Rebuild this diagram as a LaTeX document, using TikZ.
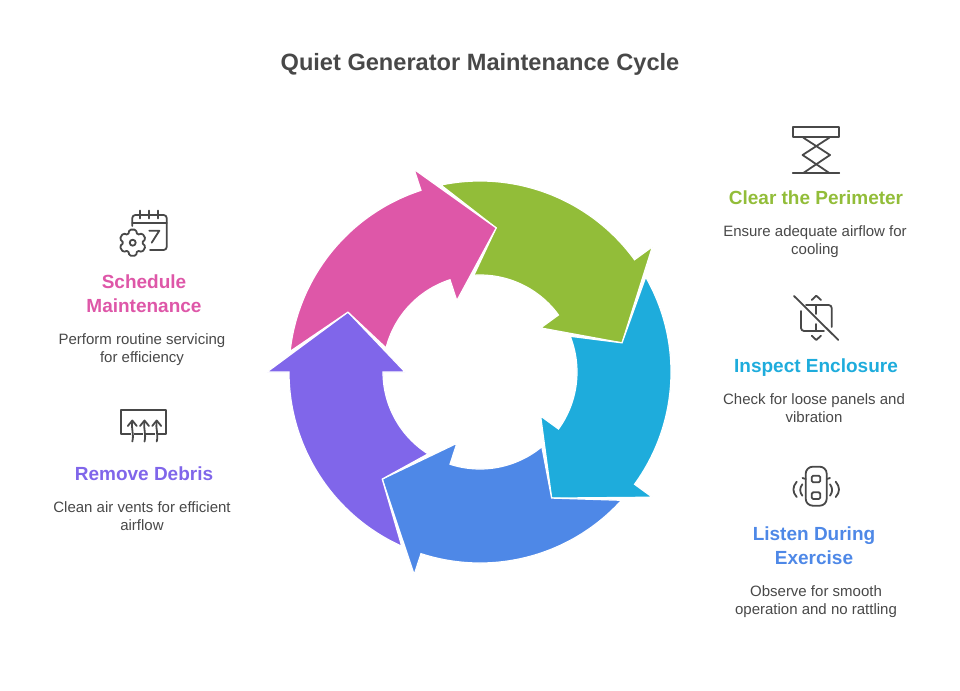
\documentclass[tikz,border=0pt]{standalone}
\usepackage{fontspec}
\setmainfont{Liberation Sans}
\usetikzlibrary{positioning}
\definecolor{CycGreen}{HTML}{92BD39}
\definecolor{CycCyan}{HTML}{1EACDC}
\definecolor{CycBlue}{HTML}{4E88E7}
\definecolor{CycPurple}{HTML}{8066EA}
\definecolor{CycPink}{HTML}{DE57A8}
\definecolor{CycInk}{HTML}{484848}
\tikzset{
  steptitle/.style={font=\fontsize{19}{24}\selectfont\bfseries, align=center, inner sep=0pt, text depth=4pt},
  stepdesc/.style={font=\fontsize{15}{18}\selectfont, text=CycInk, align=center, inner sep=0pt, text depth=4pt},
  iconline/.style={draw=CycInk, line width=1.8pt, line cap=round, line join=round}
}
\begin{document}
\begin{tikzpicture}[x=1pt, y=1pt, node distance=16pt]
  \useasboundingbox (0,-690) rectangle (960,0);
  \node[font=\fontsize{23.6}{28}\selectfont\bfseries, text=CycInk] (title) at (480,-64) {Quiet Generator Maintenance Cycle};

  % ring of five arrows
  \begin{scope}[shift={(480,-372)}]
    \foreach \base/\col in {36/CycGreen, -36/CycCyan, -108/CycBlue, 180/CycPurple, 108/CycPink} {
      \fill[\col, draw=white, line width=1.2pt]
        (\base+65.8:191) arc[start angle=\base+65.8, end angle=\base, radius=191]
        -- (\base:213) -- (\base-24.4:145) -- (\base:75) -- (\base:97)
        arc[start angle=\base, end angle=\base+57.6, radius=97]
        -- (\base+47.6:145) -- cycle;
    }
  \end{scope}

  % right column
  \node[steptitle, text=CycGreen] (perimeter) at (816,-200) {Clear the Perimeter};
  \node[stepdesc, below=of perimeter, xshift=-1pt] (perimeterdesc) {Ensure adequate airflow for\\cooling};
  \node[steptitle, text=CycCyan] (enclosure) at (816,-368) {Inspect Enclosure};
  \node[stepdesc, below=of enclosure, xshift=-2pt] (enclosuredesc) {Check for loose panels and\\vibration};
  \node[steptitle, text=CycBlue] (listen) at (814,-548) {Listen During\\Exercise};
  \node[stepdesc, below=of listen, xshift=2pt] (listendesc) {Observe for smooth\\operation and no rattling};

  % left column
  \node[steptitle, text=CycPink] (schedule) at (144,-296) {Schedule\\Maintenance};
  \node[stepdesc, below=of schedule, xshift=-2pt] (scheduledesc) {Perform routine servicing\\for efficiency};
  \node[steptitle, text=CycPurple] (debris) at (144,-476) {Remove Debris};
  \node[stepdesc, below=of debris, xshift=-2pt] (debrisdesc) {Clean air vents for efficient\\airflow};

  % lift icon
  \draw[iconline] (792.7,-126.7) rectangle (839.3,-137);
  \draw[iconline] (803.3,-137.7) -- (830,-155) -- (803.3,-173);
  \draw[iconline] (829.3,-137.7) -- (802.6,-155) -- (829.3,-173);
  \draw[iconline] (792.7,-173) -- (839.3,-173);

  % panel icon
  \draw[iconline] (794,-296) -- (838.3,-340);
  \draw[iconline] (811.7,-300) -- (816.3,-295.7) -- (821,-300);
  \draw[iconline] (811.7,-335.7) -- (816.3,-340) -- (821,-335.7);
  \draw[iconline, rounded corners=3pt] (801,-311) -- (801,-331) -- (824,-331);
  \draw[iconline, rounded corners=3pt] (806,-305) -- (831.7,-305) -- (831.7,-327);
  \draw[iconline] (816.3,-305) -- (816.3,-314);
  \draw[iconline] (816.3,-324) -- (816.3,-331);

  % car icon
  \draw[iconline, rounded corners=7pt] (805.7,-466.7) rectangle (826.7,-505.7);
  \draw[iconline, rounded corners=1.5pt] (811.7,-475.7) rectangle (820.3,-482.3);
  \draw[iconline, rounded corners=1.5pt] (811.7,-492.3) rectangle (820.3,-499);
  \draw[iconline] (805.7,-479) -- (802.5,-478);
  \draw[iconline] (826.7,-479) -- (830,-478);
  \draw[iconline] (802.3,-484.3) .. controls (799.5,-488) and (799.5,-492) .. (802.3,-495.7);
  \draw[iconline] (796.7,-481.7) .. controls (792.3,-487) and (792.3,-492) .. (796.7,-497);
  \draw[iconline] (830,-484.3) .. controls (832.8,-488) and (832.8,-492) .. (830,-495.7);
  \draw[iconline] (835.7,-481.7) .. controls (840.1,-487) and (840.1,-492) .. (835.7,-497);

  % calendar icon
  \draw[iconline, rounded corners=3pt] (132.3,-226) -- (132.3,-215) -- (166.7,-215) -- (166.7,-250) -- (150,-250);
  \draw[iconline] (132.3,-223.3) -- (166.7,-223.3);
  \foreach \tick in {140,149.3,158.3} {
    \draw[iconline] (\tick,-210.5) -- (\tick,-218.5);
  }
  \draw[iconline] (149.3,-230.7) -- (159.3,-230.7) -- (151.7,-242.7);
  \begin{scope}[shift={(132.7,-242.7)}]
    \draw[iconline, fill=white, rounded corners=1.5pt]
      (76:13.5) -- (104:13.5) -- (120:9) -- (136:13.5) -- (164:13.5) -- (180:9)
      -- (196:13.5) -- (224:13.5) -- (240:9) -- (256:13.5) -- (284:13.5) -- (300:9)
      -- (316:13.5) -- (344:13.5) -- (0:9) -- (16:13.5) -- (44:13.5) -- (60:9) -- cycle;
    \draw[iconline] (0,0) circle (3);
  \end{scope}

  % vent icon
  \draw[iconline] (121,-410) rectangle (166,-434.3);
  \foreach \vent in {132.3,144.5,156.7} {
    \draw[draw=white, line width=3pt] (\vent,-430) -- (\vent,-438);
    \draw[iconline] (\vent-4.5,-426) -- (\vent,-420.5) -- (\vent+4.5,-426);
    \draw[iconline] (\vent,-421) .. controls (\vent-1.5,-428) and (\vent+2,-434) .. (\vent,-441.5);
  }
\end{tikzpicture}
\end{document}
